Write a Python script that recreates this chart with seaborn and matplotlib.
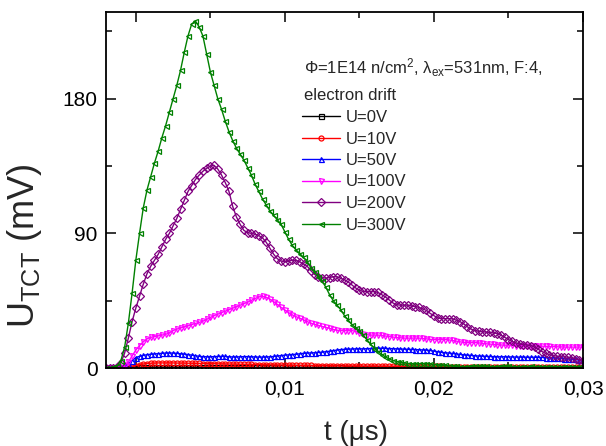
import numpy as np
import pandas as pd
import matplotlib
matplotlib.use("Agg")
import matplotlib.pyplot as plt
import seaborn as sns
from matplotlib.ticker import MultipleLocator, FuncFormatter

# ---------------- data ----------------
T_START = -0.002      # µs
T_STEP = 0.00025      # µs
N_POINTS = 129

labels = ["U=0V", "U=10V", "U=50V", "U=100V", "U=200V", "U=300V"]
colors = ["#000000", "#FF0000", "#0000FF", "#FF00FF", "#800080", "#008000"]
markers = ["s", "o", "^", "v", "D", "<"]

u0 = [0, 0, 0, 0, 0, 0, 0.1, 0.2,
      0.3, 0.4, 0.5, 0.5, 0.5, 0.5, 0.5, 0.5,
      0.5, 0.5, 0.5, 0.5, 0.5, 0.5, 0.5, 0.5,
      0.5, 0.5, 0.5, 0.5, 0.4, 0.4, 0.4, 0.4,
      0.4, 0.4, 0.4, 0.4, 0.4, 0.4, 0.4, 0.4,
      0.4, 0.4, 0.4, 0.4, 0.4, 0.4, 0.4, 0.4,
      0.4, 0.4, 0.4, 0.4, 0.4, 0.4, 0.4, 0.4,
      0.4, 0.4, 0.4, 0.4, 0.4, 0.4, 0.4, 0.4,
      0.3, 0.3, 0.3, 0.3, 0.3, 0.3, 0.3, 0.3,
      0.3, 0.3, 0.3, 0.3, 0.3, 0.3, 0.3, 0.3,
      0.3, 0.3, 0.3, 0.3, 0.3, 0.3, 0.3, 0.3,
      0.3, 0.3, 0.3, 0.3, 0.3, 0.3, 0.3, 0.3,
      0.3, 0.3, 0.3, 0.3, 0.3, 0.3, 0.3, 0.3,
      0.3, 0.3, 0.3, 0.3, 0.3, 0.3, 0.3, 0.3,
      0.3, 0.3, 0.3, 0.3, 0.3, 0.3, 0.3, 0.3,
      0.3, 0.3, 0.3, 0.3, 0.3, 0.3, 0.3, 0.3,
      0.3]

u10 = [0, 0, 0, 0, 0, 0.2, 0.5, 1,
       1.6, 2.2, 2.7, 3, 3.2, 3.3, 3.4, 3.4,
       3.4, 3.4, 3.4, 3.3, 3.3, 3.3, 3.2, 3.2,
       3.1, 3.1, 3.0, 3.0, 2.9, 2.9, 2.8, 2.8,
       2.7, 2.7, 2.6, 2.6, 2.5, 2.5, 2.4, 2.4,
       2.3, 2.3, 2.2, 2.2, 2.1, 2.1, 2.0, 2.0,
       1.9, 1.9, 1.8, 1.8, 1.8, 1.7, 1.7, 1.7,
       1.6, 1.6, 1.6, 1.5, 1.5, 1.5, 1.5, 1.4,
       1.4, 1.4, 1.4, 1.4, 1.3, 1.3, 1.3, 1.3,
       1.3, 1.3, 1.2, 1.2, 1.2, 1.2, 1.2, 1.2,
       1.2, 1.2, 1.1, 1.1, 1.1, 1.1, 1.1, 1.1,
       1.1, 1.1, 1.1, 1.0, 1.0, 1.0, 1.0, 1.0,
       1.0, 1.0, 1.0, 1.0, 1.0, 1.0, 1.0, 0.9,
       0.9, 0.9, 0.9, 0.9, 0.9, 0.9, 0.9, 0.9,
       0.9, 0.9, 0.9, 0.9, 0.9, 0.9, 0.9, 0.9,
       0.9, 0.9, 0.9, 0.9, 0.9, 0.9, 0.9, 0.9,
       0.9]

u50 = [0, 0, 0, 0.2, 0.6, 1.5, 3, 5,
       7, 7.8, 8.4, 8.9, 9.2, 9.4, 9.6, 9.8,
       10, 10, 10, 9.8, 9.5, 9.3, 9, 8.6,
       8.2, 7.8, 7.6, 7.5, 7.5, 7.6, 7.7, 7.8,
       7.7, 7.5, 7.4, 7.4, 7.5, 7.6, 7.6, 7.5,
       7.4, 7.3, 7.3, 7.4, 7.5, 7.7, 8, 8.3,
       8.6, 8.8, 9, 9.2, 9.5, 9.8, 10, 10.1,
       10.2, 10.4, 10.6, 10.9, 11.2, 11.6, 12, 12.3,
       12.5, 12.6, 12.7, 12.8, 12.8, 12.8, 12.9, 13,
       13.1, 13.2, 13.2, 13.1, 13, 12.9, 12.8, 12.7,
       12.6, 12.5, 12.4, 12.3, 12.2, 12.1, 12, 11.7,
       11.3, 10.9, 10.5, 10.2, 10, 9.7, 9.4, 9.1,
       8.8, 8.6, 8.4, 8.2, 8, 7.9, 7.8, 7.7,
       7.6, 7.5, 7.5, 7.5, 7.4, 7.4, 7.3, 7.3,
       7.3, 7.2, 7.2, 7.2, 7.1, 7.1, 7, 6.9,
       6.8, 6.7, 6.5, 6.3, 6.1, 5.9, 5.7, 5.5,
       5.3]

u100 = [0, 0, 0, 0.2, 0.8, 1.8, 4, 8,
        12, 15, 17.5, 19.5, 20.5, 21, 21.5, 22,
        22.5, 23.5, 25, 26, 26.8, 27.5, 28.2, 29,
        29.8, 30.5, 31.3, 32.5, 33.8, 35, 36, 37,
        38, 39, 40, 41, 42, 43, 44, 45.2,
        46.5, 47.5, 48, 47.3, 46, 44.3, 42.5, 40.5,
        38.8, 37, 35.5, 34.3, 33.3, 32.2, 31, 30,
        29.2, 28.5, 27.8, 27.2, 26.5, 25.8, 25.3, 25,
        25, 25, 25, 24.5, 23.5, 22.8, 22.3, 22,
        22, 22, 21.8, 21.4, 21, 20.7, 20.4, 20.2,
        20, 20, 20, 20, 20, 19.8, 19.5, 19.2,
        19, 19, 19, 19, 18.8, 18.4, 18, 17.5,
        17.2, 17, 17, 17, 16.8, 16.5, 16.2, 16,
        15.8, 15.6, 15.4, 15.3, 15.2, 15.1, 15, 15,
        15, 15, 14.9, 14.8, 14.7, 14.6, 14.5, 14.4,
        14.3, 14.2, 14.1, 14, 14, 14, 14, 14,
        14]

u200 = [0, 0, 0.2, 0.8, 3.5, 10, 20, 31,
        40, 48, 56, 63, 68, 72, 76, 81,
        86, 90, 95, 100, 106, 112, 118, 122,
        126, 129, 131.5, 133.5, 135, 135.5, 133, 129,
        124, 118, 108, 101, 96, 92, 90.5, 90,
        89.5, 88.5, 87, 84, 80, 76, 73, 71.5,
        71, 71.5, 72, 72, 71, 69.5, 68, 65,
        62.5, 61, 60.5, 60, 60.5, 61, 61, 60,
        59, 57.5, 55.5, 53.5, 52, 51.2, 51, 51,
        51, 50.5, 49, 47.5, 45.5, 43.5, 42.3, 42,
        42, 42, 41.5, 41, 40.5, 39.5, 38.5, 36.5,
        35, 33.5, 33, 33, 33, 32.8, 32, 31,
        29.5, 27.5, 26, 25, 24.5, 24.2, 24, 23.8,
        23.5, 23, 22, 20.5, 19, 17.8, 16.8, 16,
        15.6, 15.4, 15, 14, 12.5, 11, 9.8, 8.9,
        8.3, 7.9, 7.6, 7.4, 7.2, 6.8, 6.2, 5.5,
        4.5]

u300 = [0.3, 0.3, 0.5, 1.5, 5, 14, 30, 50,
        72, 90, 107, 119, 128, 137, 145, 154,
        162, 171, 180, 189, 199, 211, 222, 230,
        232, 228, 222, 210, 198, 189, 180, 173,
        165, 158, 152, 147, 143, 139, 134, 129,
        123, 118, 113, 109, 105, 102, 99, 96,
        91, 86, 82, 79, 76.5, 74, 71, 67,
        64, 61, 58, 54, 49, 45, 42, 39,
        35, 32, 29, 27, 25, 22, 19, 16,
        13, 11, 9, 7.5, 6, 5, 4.3, 3.8,
        3.4, 3, 2.8, 2.7, 2.8, 3, 3, 2.7,
        2.3, 2, 1.8, 1.7, 1.5, 1.3, 1.2, 1.0,
        0.9,
        1.0, 1.1, 1.2, 1.3, 1.2, 1.1, 1.0, 0.9,
        1.0, 1.1, 1.2, 1.1, 1.0, 0.9, 0.8, 0.9,
        1.0, 1.1, 1.0, 0.9, 0.9, 1.0, 1.0, 0.9,
        0.8, 0.8, 0.9, 1.0, 1.0, 0.9, 0.8, 0.8]

series = [u0, u10, u50, u100, u200, u300]
for s in series:
    assert len(s) == N_POINTS, len(s)

t = np.round(T_START + T_STEP * np.arange(N_POINTS), 6)

frames = []
for lab, vals in zip(labels, series):
    frames.append(pd.DataFrame({"t": t, "U": vals, "series": lab}))
df = pd.concat(frames, ignore_index=True)

# ---------------- style ----------------
sns.set_style("ticks")
plt.rcParams["font.family"] = ["Liberation Sans", "DejaVu Sans"]
plt.rcParams["mathtext.fontset"] = "custom"
plt.rcParams["mathtext.rm"] = "Liberation Sans"
plt.rcParams["mathtext.it"] = "Liberation Sans:italic"
plt.rcParams["mathtext.bf"] = "Liberation Sans:bold"

W, H = 606, 446
fig = plt.figure(figsize=(W / 100, H / 100), dpi=100)
ax = fig.add_axes([106 / W, (H - 368) / H, 477 / W, 356 / H])

for lab, col, mk in zip(labels, colors, markers):
    sub = df[df["series"] == lab]
    sns.lineplot(data=sub, x="t", y="U", ax=ax, color=col, marker=mk,
                 markersize=3.6, mfc="none", mec=col, mew=0.9,
                 linewidth=1.0, label=lab, errorbar=None, legend=False)

ax.set_xlim(-0.002, 0.030)
ax.set_ylim(0, 238)
ax.xaxis.set_major_locator(MultipleLocator(0.01))
ax.xaxis.set_minor_locator(MultipleLocator(0.005))
ax.yaxis.set_major_locator(MultipleLocator(90))
ax.yaxis.set_minor_locator(MultipleLocator(45))
ax.xaxis.set_major_formatter(FuncFormatter(lambda v, p: f"{v:.2f}".replace(".", ",").replace("-0,00", "0,00")))
ax.yaxis.set_major_formatter(FuncFormatter(lambda v, p: f"{v:.0f}"))

ax.tick_params(which="both", direction="in", top=True, right=True,
               labeltop=False, labelright=False, width=1.1, colors="black",
               labelsize=15)
ax.tick_params(which="major", length=7)
ax.tick_params(which="minor", length=4)
ax.tick_params(axis="x", which="major", pad=8)
ax.tick_params(axis="y", which="major", pad=6)
for sp in ax.spines.values():
    sp.set_linewidth(1.3)
    sp.set_color("black")

ax.set_xlabel("t (\u03bcs)", fontsize=20)
ax.set_ylabel(r"U$_{\mathrm{TCT}}$ (mV)", fontsize=26)
ax.xaxis.set_label_coords(0.524, -0.145)
ax.yaxis.set_label_coords(-0.13, 0.345)

handles, labs = ax.get_legend_handles_labels()
ax.legend(handles, labs, loc="upper left",
          bbox_to_anchor=(302 / W, 1 - 110 / H), bbox_transform=fig.transFigure,
          frameon=False, fontsize=12, handlelength=2.3, handletextpad=0.3,
          labelspacing=0.39, borderpad=0, borderaxespad=0, numpoints=1)

fig.text(304 / W, 1 - 68 / H, "\u03a6=1E14 n/cm$^2$, \u03bb$_{\\mathrm{ex}}$=531nm, F:4,",
         va="center", ha="left", fontsize=12)
fig.text(304 / W, 1 - 95 / H, "electron drift", va="center", ha="left", fontsize=12)

fig.savefig("out.png", dpi=100)
